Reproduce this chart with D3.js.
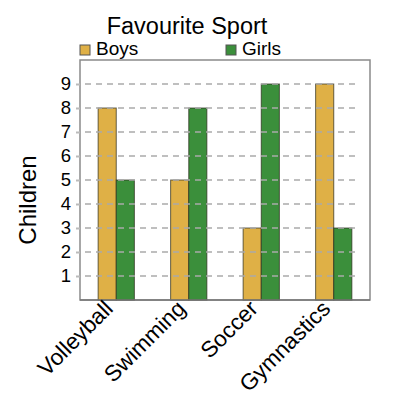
<!DOCTYPE html>
<html>
<head>
<meta charset="utf-8">
<script src="https://cdn.jsdelivr.net/npm/d3@7"></script>
<style>
  body { margin: 0; background: #fff; }
  svg { font-family: "Liberation Sans", Arial, sans-serif; }
</style>
</head>
<body>
<svg width="400" height="400"></svg>
<script>
var sports = ["Volleyball", "Swimming", "Soccer", "Gymnastics"];
var series = ["Boys", "Girls"];
var boys = [8, 5, 3, 9];
var girls = [5, 8, 9, 3];
var yTicks = [1, 2, 3, 4, 5, 6, 7, 8, 9];

var colors = { Boys: "#dfb046", Girls: "#3b8f3b" };

var plotL = 80, plotR = 370, plotT = 60, plotB = 300;

var svg = d3.select("svg");

var xScale = d3.scaleBand()
  .domain(sports)
  .range([plotL, plotR])
  .paddingInner(0.5)
  .paddingOuter(0.25);

var xSub = d3.scaleBand()
  .domain(series)
  .range([0, xScale.bandwidth()]);

var yScale = d3.scaleLinear()
  .domain([0, 10])
  .range([plotB, plotT]);

// frame
svg.append("rect")
  .attr("x", plotL)
  .attr("y", plotT)
  .attr("width", plotR - plotL)
  .attr("height", plotB - plotT)
  .attr("fill", "none")
  .attr("stroke", "#8a8a8a")
  .attr("stroke-width", 1.5);

// bars
var rows = sports.map(function(s, i) {
  return { sport: s, Boys: boys[i], Girls: girls[i] };
});

svg.append("g")
  .selectAll("g")
  .data(rows)
  .enter()
  .append("g")
  .attr("transform", function(d) {
    return "translate(" + xScale(d.sport) + ",0)";
  })
  .selectAll("rect")
  .data(function(d) {
    return series.map(function(k) { return { key: k, value: d[k] }; });
  })
  .enter()
  .append("rect")
  .attr("x", function(d) { return xSub(d.key); })
  .attr("y", function(d) { return yScale(d.value); })
  .attr("width", xSub.bandwidth())
  .attr("height", function(d) { return plotB - yScale(d.value); })
  .attr("fill", function(d) { return colors[d.key]; })
  .attr("stroke", "#2a2a1a")
  .attr("stroke-opacity", 0.7)
  .attr("stroke-width", 1);

// y axis, dashed grid drawn over the bars
var yAxis = d3.axisLeft(yScale)
  .tickValues(yTicks)
  .tickSize(4)
  .tickPadding(5);

var yg = svg.append("g")
  .attr("transform", "translate(" + plotL + ",0)")
  .call(yAxis);
yg.select(".domain").remove();
yg.selectAll(".tick line").attr("stroke", "#bbb").attr("stroke-width", 2);
yg.selectAll(".tick text")
  .attr("font-size", 18.5)
  .attr("fill", "#000")
  .attr("font-family", "Liberation Sans, Arial, sans-serif");

svg.append("g")
  .selectAll("line")
  .data(yTicks)
  .enter()
  .append("line")
  .attr("x1", plotL + 5)
  .attr("x2", plotR - 10)
  .attr("y1", function(d) { return yScale(d); })
  .attr("y2", function(d) { return yScale(d); })
  .attr("stroke", "#aaa")
  .attr("stroke-opacity", 0.75)
  .attr("stroke-width", 2)
  .attr("stroke-dasharray", "6,5");

// bottom axis line
svg.append("line")
  .attr("x1", plotL)
  .attr("x2", plotR)
  .attr("y1", plotB)
  .attr("y2", plotB)
  .attr("stroke", "#777")
  .attr("stroke-width", 1.5);

// x labels
svg.append("g")
  .selectAll("text")
  .data(sports)
  .enter()
  .append("text")
  .attr("transform", function(d) {
    var x = xScale(d) + xScale.bandwidth() / 2 - 2;
    return "translate(" + x + "," + (plotB + 10) + ") rotate(-45)";
  })
  .attr("text-anchor", "end")
  .attr("font-size", 22.5)
  .text(function(d) { return d; });

// y label
svg.append("text")
  .attr("transform", "translate(36," + ((plotT + plotB) / 2 + 20) + ") rotate(-90)")
  .attr("text-anchor", "middle")
  .attr("font-size", 24)
  .text("Children");

// title
svg.append("text")
  .attr("x", 187)
  .attr("y", 34)
  .attr("text-anchor", "middle")
  .attr("font-size", 23.5)
  .text("Favourite Sport");

// legend
var legendX = [80, 226];
var legend = svg.append("g")
  .selectAll("g")
  .data(series)
  .enter()
  .append("g")
  .attr("transform", function(d, i) {
    return "translate(" + legendX[i] + ",45)";
  });
legend.append("rect")
  .attr("width", 10)
  .attr("height", 10)
  .attr("fill", function(d) { return colors[d]; })
  .attr("stroke", "#555");
legend.append("text")
  .attr("x", 16)
  .attr("y", 10)
  .attr("font-size", 19)
  .text(function(d) { return d; });
</script>
</body>
</html>
